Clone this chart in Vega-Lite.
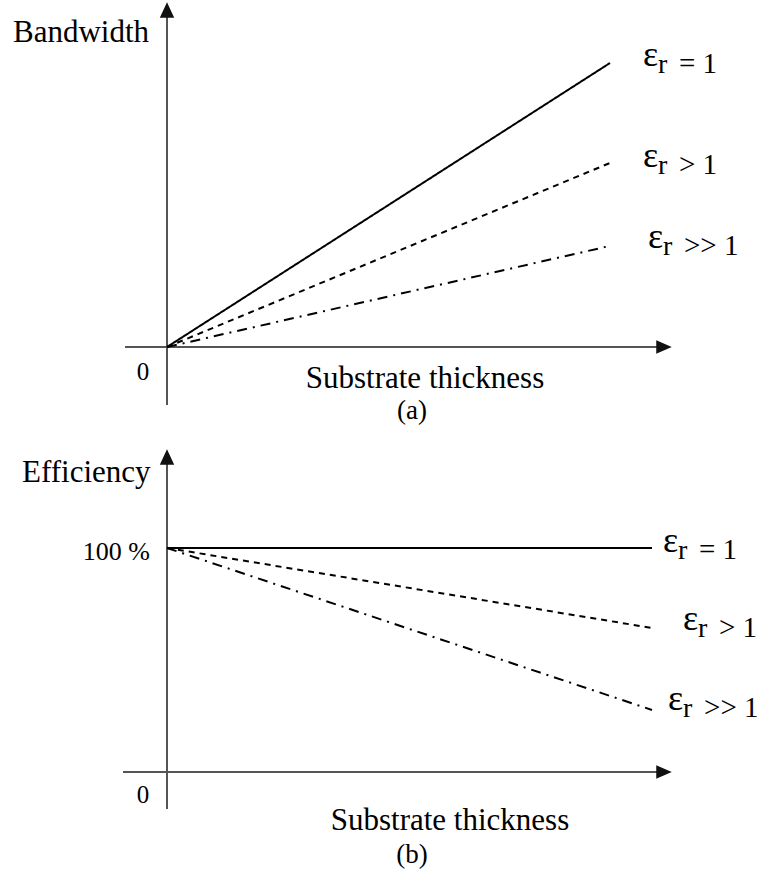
{
  "$schema": "https://vega.github.io/schema/vega-lite/v6.json",
  "padding": 0,
  "spacing": 0,
  "background": "white",
  "config": {
    "view": {"stroke": null},
    "font": "Liberation Serif",
    "text": {"font": "Liberation Serif", "color": "black", "baseline": "alphabetic"}
  },
  "datasets": {
    "linesA": [
      {"series": "eq", "t": 0, "v": 0}, {"series": "eq", "t": 1, "v": 1},
      {"series": "gt", "t": 0, "v": 0}, {"series": "gt", "t": 1, "v": 0.648},
      {"series": "gg", "t": 0, "v": 0}, {"series": "gg", "t": 1, "v": 0.356}
    ],
    "epsA": [
      {"rel": "= 1", "t": 1.0745, "v": 0.9894},
      {"rel": "> 1", "t": 1.0745, "v": 0.6338},
      {"rel": ">> 1", "t": 1.0858, "v": 0.3486}
    ],
    "textA": [
      {"label": "Bandwidth", "t": -0.3476, "v": 1.074, "role": "ytitle"},
      {"label": "Substrate thickness", "t": 0.5824, "v": -0.1444, "role": "xtitle"},
      {"label": "0", "t": -0.0542, "v": -0.1162, "role": "zero"},
      {"label": "(a)", "t": 0.553, "v": -0.2535, "role": "caption"}
    ],
    "vaxisA": [{"t": 0, "v": -0.204, "v2": 1.17}],
    "haxisA": [{"t": -0.0948, "t2": 1.11, "v": 0}],
    "uparrowA": [{"t": 0, "v": 1.1866}],
    "rightarrowA": [{"t": 1.1219, "v": 0}],
    "linesB": [
      {"series": "eq", "t": 0, "v": 100}, {"series": "eq", "t": 1.0948, "v": 100},
      {"series": "gt", "t": 0, "v": 100}, {"series": "gt", "t": 1.0948, "v": 64.3},
      {"series": "gg", "t": 0, "v": 100}, {"series": "gg", "t": 1.0948, "v": 27.7}
    ],
    "epsB": [
      {"rel": "= 1", "t": 1.1196, "v": 98.2},
      {"rel": "> 1", "t": 1.1648, "v": 63.4},
      {"rel": ">> 1", "t": 1.131, "v": 27.7}
    ],
    "textB": [
      {"label": "Efficiency", "t": -0.3273, "v": 129.5, "role": "ytitle"},
      {"label": "100 %", "t": -0.0384, "v": 94.6, "role": "tick"},
      {"label": "Substrate thickness", "t": 0.6388, "v": -25.9, "role": "xtitle"},
      {"label": "0", "t": -0.0542, "v": -13.8, "role": "zero"},
      {"label": "(b)", "t": 0.553, "v": -40.6, "role": "caption"}
    ],
    "vaxisB": [{"t": 0, "v": -16.5, "v2": 138}],
    "haxisB": [{"t": -0.0993, "t2": 1.11, "v": 0}],
    "uparrowB": [{"t": 0, "v": 140.6}],
    "rightarrowB": [{"t": 1.1219, "v": 0}]
  },
  "vconcat": [
    {
      "width": 757,
      "height": 437,
      "encoding": {
        "x": {"field": "t", "type": "quantitative", "axis": null, "scale": {"domain": [-0.37698, 1.33183], "nice": false, "zero": false}},
        "y": {"field": "v", "type": "quantitative", "axis": null, "scale": {"domain": [-0.3169, 1.22183], "nice": false, "zero": false}}
      },
      "layer": [
        {"data": {"name": "vaxisA"}, "mark": {"type": "rule", "color": "#555555", "strokeWidth": 2}, "encoding": {"y2": {"field": "v2"}}},
        {"data": {"name": "haxisA"}, "mark": {"type": "rule", "color": "#555555", "strokeWidth": 2}, "encoding": {"x2": {"field": "t2"}}},
        {"data": {"name": "uparrowA"}, "mark": {"type": "point", "shape": "M0,-1L0.93,1L-0.93,1Z", "filled": true, "size": 240, "color": "#111111", "opacity": 1}},
        {"data": {"name": "rightarrowA"}, "mark": {"type": "point", "shape": "M1,0L-1,-0.86L-1,0.86Z", "filled": true, "size": 240, "color": "#111111", "opacity": 1}},
        {
          "data": {"name": "linesA"},
          "mark": {"type": "line", "color": "black", "strokeWidth": 2},
          "encoding": {
            "detail": {"field": "series"},
            "strokeDash": {"field": "series", "type": "nominal", "legend": null, "scale": {"domain": ["eq", "gt", "gg"], "range": [[1, 0], [6, 5], [10, 6, 2, 6]]}}
          }
        },
        {"data": {"name": "epsA"}, "mark": {"type": "text", "align": "left", "fontSize": 36, "text": "ε"}},
        {"data": {"name": "epsA"}, "mark": {"type": "text", "align": "left", "fontSize": 28, "dx": 15, "dy": 7, "text": "r"}},
        {"data": {"name": "epsA"}, "mark": {"type": "text", "align": "left", "fontSize": 29, "dx": 36, "dy": 7}, "encoding": {"text": {"field": "rel"}}},
        {"data": {"name": "textA"}, "transform": [{"filter": "datum.role === 'ytitle'"}], "mark": {"type": "text", "align": "left", "fontSize": 31}, "encoding": {"text": {"field": "label"}}},
        {"data": {"name": "textA"}, "transform": [{"filter": "datum.role === 'xtitle'"}], "mark": {"type": "text", "align": "center", "fontSize": 31}, "encoding": {"text": {"field": "label"}}},
        {"data": {"name": "textA"}, "transform": [{"filter": "datum.role === 'zero'"}], "mark": {"type": "text", "align": "center", "fontSize": 25}, "encoding": {"text": {"field": "label"}}},
        {"data": {"name": "textA"}, "transform": [{"filter": "datum.role === 'caption'"}], "mark": {"type": "text", "align": "center", "fontSize": 27}, "encoding": {"text": {"field": "label"}}}
      ]
    },
    {
      "width": 757,
      "height": 436,
      "encoding": {
        "x": {"field": "t", "type": "quantitative", "axis": null, "scale": {"domain": [-0.37698, 1.33183], "nice": false, "zero": false}},
        "y": {"field": "v", "type": "quantitative", "axis": null, "scale": {"domain": [-45.09, 149.55], "nice": false, "zero": false}}
      },
      "layer": [
        {"data": {"name": "vaxisB"}, "mark": {"type": "rule", "color": "#555555", "strokeWidth": 2}, "encoding": {"y2": {"field": "v2"}}},
        {"data": {"name": "haxisB"}, "mark": {"type": "rule", "color": "#555555", "strokeWidth": 2}, "encoding": {"x2": {"field": "t2"}}},
        {"data": {"name": "uparrowB"}, "mark": {"type": "point", "shape": "M0,-1L0.93,1L-0.93,1Z", "filled": true, "size": 240, "color": "#111111", "opacity": 1}},
        {"data": {"name": "rightarrowB"}, "mark": {"type": "point", "shape": "M1,0L-1,-0.86L-1,0.86Z", "filled": true, "size": 240, "color": "#111111", "opacity": 1}},
        {
          "data": {"name": "linesB"},
          "mark": {"type": "line", "color": "black", "strokeWidth": 2},
          "encoding": {
            "detail": {"field": "series"},
            "strokeDash": {"field": "series", "type": "nominal", "legend": null, "scale": {"domain": ["eq", "gt", "gg"], "range": [[1, 0], [6, 5], [10, 6, 2, 6]]}}
          }
        },
        {"data": {"name": "epsB"}, "mark": {"type": "text", "align": "left", "fontSize": 36, "text": "ε"}},
        {"data": {"name": "epsB"}, "mark": {"type": "text", "align": "left", "fontSize": 28, "dx": 15, "dy": 7, "text": "r"}},
        {"data": {"name": "epsB"}, "mark": {"type": "text", "align": "left", "fontSize": 29, "dx": 36, "dy": 7}, "encoding": {"text": {"field": "rel"}}},
        {"data": {"name": "textB"}, "transform": [{"filter": "datum.role === 'ytitle'"}], "mark": {"type": "text", "align": "left", "fontSize": 31}, "encoding": {"text": {"field": "label"}}},
        {"data": {"name": "textB"}, "transform": [{"filter": "datum.role === 'tick'"}], "mark": {"type": "text", "align": "right", "fontSize": 26}, "encoding": {"text": {"field": "label"}}},
        {"data": {"name": "textB"}, "transform": [{"filter": "datum.role === 'xtitle'"}], "mark": {"type": "text", "align": "center", "fontSize": 31}, "encoding": {"text": {"field": "label"}}},
        {"data": {"name": "textB"}, "transform": [{"filter": "datum.role === 'zero'"}], "mark": {"type": "text", "align": "center", "fontSize": 25}, "encoding": {"text": {"field": "label"}}},
        {"data": {"name": "textB"}, "transform": [{"filter": "datum.role === 'caption'"}], "mark": {"type": "text", "align": "center", "fontSize": 27}, "encoding": {"text": {"field": "label"}}}
      ]
    }
  ]
}
